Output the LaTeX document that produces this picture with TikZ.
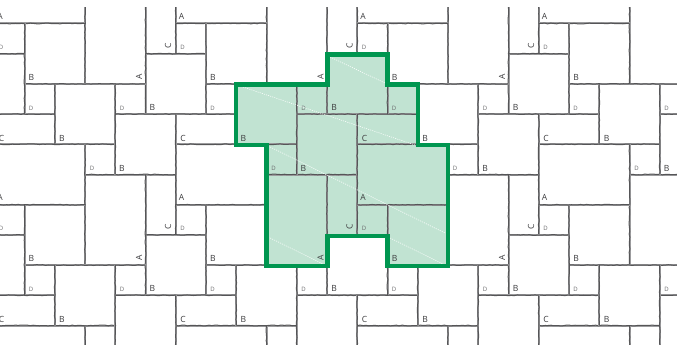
\documentclass[tikz,border=0pt]{standalone}
\usepackage{fontspec}
\setmainfont{Open Sans}
\usetikzlibrary{decorations.pathmorphing}
\definecolor{seam}{HTML}{555557}
\definecolor{seamlight}{HTML}{9C9C9E}
\definecolor{panel}{HTML}{C1E3D2}
\definecolor{edge}{HTML}{009650}
\definecolor{ink}{HTML}{3E3E40}
\definecolor{inksmall}{HTML}{6A6A6C}
\pgfmathsetseed{4242}
\newcommand{\ux}{30.25}
\newcommand{\uy}{30.2}
\newcommand{\ox}{24.5}
\newcommand{\oy}{23.5}
% horizontal seam: row j, from column a to column b
\newcommand{\hseam}[3]{%
  \draw[seamunder] ({\ox+\ux*(#2)},{\oy+\uy*(#1)}) -- ({\ox+\ux*(#3)},{\oy+\uy*(#1)});
  \draw[seamover] ({\ox+\ux*(#2)},{\oy+\uy*(#1)}) -- ({\ox+\ux*(#3)},{\oy+\uy*(#1)});}
\newcommand{\vseam}[3]{%
  \draw[seamunder] ({\ox+\ux*(#1)},{\oy+\uy*(#2)}) -- ({\ox+\ux*(#1)},{\oy+\uy*(#3)});
  \draw[seamover] ({\ox+\ux*(#1)},{\oy+\uy*(#2)}) -- ({\ox+\ux*(#1)},{\oy+\uy*(#3)});}
% label drawn only when it reaches into the picture
\newcommand{\lab}[4]{%
  \pgfmathsetmacro{\lx}{#2}\pgfmathsetmacro{\ly}{#3}%
  \pgfmathtruncatemacro{\inside}{(\lx>-4)&&(\lx<681)&&(\ly>9)&&(\ly<349)?1:0}%
  \ifnum\inside=1 \node[#1] at (\lx,\ly) {#4};\fi}
\tikzset{
  x=1pt,y=-1pt,
  seamunder/.style={seamlight,line width=2pt},
  seamover/.style={seam,line width=1pt,decorate,decoration={random steps,segment length=3pt,amplitude=.4pt}},
  biglabel/.style={inner sep=0pt,text=ink,font=\fontsize{8.5}{9}\selectfont},
  smalllabel/.style={inner sep=0pt,text=inksmall,font=\fontsize{6}{6.5}\selectfont},
  outline/.style={edge,line width=4.4pt,miter limit=10},
  crease/.style={white,line width=.55pt,dash pattern=on 1.1pt off 1.1pt},
}
\begin{document}
\begin{tikzpicture}
\useasboundingbox (0,0) rectangle (677,345);
\fill[white] (0,0) rectangle (677,345);
\begin{scope}
\clip (0,8) rectangle (677,345);
\fill[panel] (236.2,84.4) -- (327.4,84.4) -- (327.4,54.4) -- (387.5,54.4) -- (387.5,84.4) -- (417.8,84.4) -- (417.8,145) -- (448,145) -- (448,266) -- (387.5,266) -- (387.5,236) -- (327.4,236) -- (327.4,266) -- (266.5,266) -- (266.5,145) -- (236.2,145) -- cycle;
\foreach \py in {-6,0,6}{
 \foreach \px in {-6,0,6,12,18}{
  \hseam{\py+0}{\px+5}{\px+8}
  \hseam{\py+1}{\px+4}{\px+6}
  \hseam{\py+2}{\px+0}{\px+4}
  \hseam{\py+3}{\px+3}{\px+7}
  \hseam{\py+4}{\px+5}{\px+9}
  \hseam{\py+5}{\px+2}{\px+5}
  \vseam{\px+0}{\py+0}{\py+3}
  \vseam{\px+1}{\py+2}{\py+4}
  \vseam{\px+2}{\py+4}{\py+8}
  \vseam{\px+3}{\py+2}{\py+5}
  \vseam{\px+4}{\py+5}{\py+9}
  \vseam{\px+5}{\py+3}{\py+7}
  \lab{biglabel}{181.5+30.25*\px}{16+30.2*\py}{A}
  \lab{biglabel,rotate=90}{139+30.25*\px}{77+30.2*\py}{A}
  \lab{biglabel,rotate=90}{168+30.25*\px}{46+30.2*\py}{C}
  \lab{biglabel}{183+30.25*\px}{138+30.2*\py}{C}
  \lab{biglabel}{31.5+30.25*\px}{77+30.2*\py}{B}
  \lab{biglabel}{152.5+30.25*\px}{107+30.2*\py}{B}
  \lab{biglabel}{62+30.25*\px}{138+30.2*\py}{B}
  \lab{biglabel}{122+30.25*\px}{168+30.2*\py}{B}
  \lab{smalllabel}{182.5+30.25*\px}{47.5+30.2*\py}{D}
  \lab{smalllabel}{31+30.25*\px}{108+30.2*\py}{D}
  \lab{smalllabel}{122+30.25*\px}{108+30.2*\py}{D}
  \lab{smalllabel}{92+30.25*\px}{168.5+30.2*\py}{D}
 }
}
\draw[crease] (243,87) -- (415,145);
\draw[crease] (330,57) -- (385,83);
\draw[crease] (268,146) -- (445,233);
\draw[crease] (268,237) -- (325,265);
\draw[crease] (390,238) -- (445,265);
\draw[outline] (236.2,84.4) -- (327.4,84.4) -- (327.4,54.4) -- (387.5,54.4) -- (387.5,84.4) -- (417.8,84.4) -- (417.8,145) -- (448,145) -- (448,266) -- (387.5,266) -- (387.5,236) -- (327.4,236) -- (327.4,266) -- (266.5,266) -- (266.5,145) -- (236.2,145) -- cycle;
\end{scope}
\end{tikzpicture}
\end{document}
